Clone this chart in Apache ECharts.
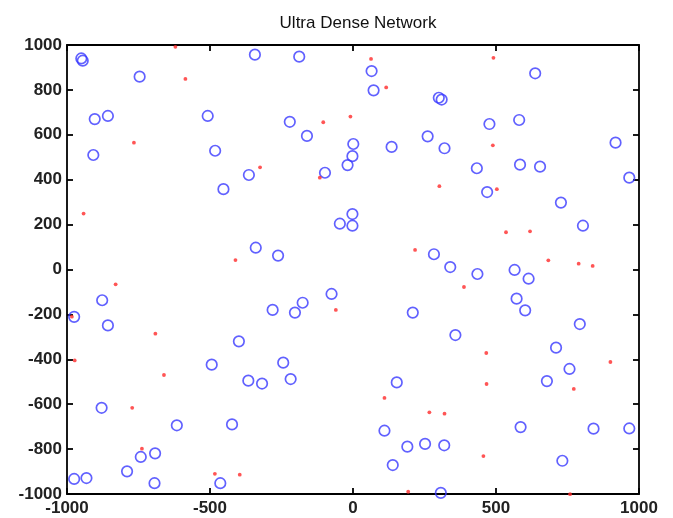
<!DOCTYPE html>
<html>
<head>
<meta charset="utf-8">
<script src="https://cdn.jsdelivr.net/npm/echarts@6/dist/echarts.min.js"></script>
<style>html,body{margin:0;padding:0;background:#fff}#c{width:673px;height:518px}</style>
</head>
<body>
<div id="c"></div>
<script>
const chartTitle = 'Ultra Dense Network';
const xTicks = [-1000, -500, 0, 500, 1000];
const yTicks = [-1000, -800, -600, -400, -200, 0, 200, 400, 600, 800, 1000];

// blue circles
const circleX = [-950,-945,-746,-903,-857,-508,-908,-482,-364,-343,-453,-188,65,72,300,310,-221,-161,1,-2,-19,135,261,320,-98,637,477,581,433,584,654,918,966,469,-340,-877,-975,-857,-399,-2,-46,-2,-262,283,340,-75,-281,-176,-203,209,727,804,435,565,614,572,602,793,358,-494,-366,-318,-879,-616,-423,-742,-692,-790,-975,-932,-694,-464,-244,-218,153,110,190,252,319,139,307,710,757,678,586,841,966,732];
const circleY = [940,930,859,670,684,684,510,529,421,957,358,948,884,798,765,757,658,595,559,505,465,546,593,540,431,874,648,666,451,467,458,565,409,345,97,-137,-211,-249,-320,247,204,195,62,68,11,-109,-180,-148,-192,-192,298,195,-20,-2,-41,-130,-182,-243,-292,-424,-495,-508,-616,-694,-690,-835,-819,-899,-933,-929,-952,-952,-415,-488,-503,-718,-789,-777,-783,-871,-995,-348,-443,-497,-702,-709,-708,-852];

// red dots
const dotX = [-621,-586,-766,-325,63,116,-104,-9,-116,302,491,489,503,-942,-411,-830,-983,-691,217,-60,535,619,683,789,838,388,-973,-661,-772,-738,-483,-396,110,267,320,193,466,900,467,772,456,759];
const dotY = [992,849,565,455,938,811,656,681,409,371,943,553,358,249,42,-66,-210,-286,87,-180,166,170,41,26,16,-78,-405,-470,-616,-798,-910,-914,-572,-636,-642,-990,-372,-412,-510,-532,-831,-1001];

const circleData = circleX.map((x, i) => [x, circleY[i]]);
const dotData = dotX.map((x, i) => [x, dotY[i]]);

const font = 'Liberation Sans, Arial, sans-serif';
const axisLine = { show: true, onZero: false, lineStyle: { color: '#000', width: 1.8 } };
const tick = { show: true, inside: true, length: 6, lineStyle: { color: '#000', width: 1.8 } };
const labelStyle = { fontFamily: font, fontSize: 17, fontWeight: 'bold', color: '#222' };

const chart = echarts.init(document.getElementById('c'), null, { renderer: 'canvas' });
chart.setOption({
  animation: false,
  backgroundColor: '#fff',
  title: {
    text: chartTitle, left: 353, top: 10, textAlign: 'center',
    textStyle: { fontFamily: font, fontSize: 17, fontWeight: 'normal', color: '#111' }
  },
  grid: { left: 67, right: 34, top: 45, bottom: 24, containLabel: false },
  xAxis: [
    { type: 'value', min: xTicks[0], max: xTicks[xTicks.length - 1], interval: 500, position: 'bottom',
      axisLine, axisTick: tick, splitLine: { show: false },
      axisLabel: Object.assign({ margin: 6, formatter: v => xTicks.includes(v) ? String(v) : '' }, labelStyle) },
    { type: 'value', min: xTicks[0], max: xTicks[xTicks.length - 1], interval: 500, position: 'top',
      axisLine, axisTick: tick, splitLine: { show: false }, axisLabel: { show: false } }
  ],
  yAxis: [
    { type: 'value', min: yTicks[0], max: yTicks[yTicks.length - 1], interval: 200, position: 'left',
      axisLine, axisTick: tick, splitLine: { show: false },
      axisLabel: Object.assign({ margin: 5, formatter: v => yTicks.includes(v) ? String(v) : '' }, labelStyle) },
    { type: 'value', min: yTicks[0], max: yTicks[yTicks.length - 1], interval: 200, position: 'right',
      axisLine, axisTick: tick, splitLine: { show: false }, axisLabel: { show: false } }
  ],
  series: [
    { type: 'scatter', xAxisIndex: 0, yAxisIndex: 0, data: circleData, symbol: 'circle', symbolSize: 10.5,
      itemStyle: { color: 'rgba(0,0,0,0)', borderColor: '#3a3aff', borderWidth: 1.7 }, clip: false },
    { type: 'scatter', xAxisIndex: 0, yAxisIndex: 0, data: dotData, symbol: 'circle', symbolSize: 3.8,
      itemStyle: { color: '#ff2a2a' }, clip: false }
  ]
});
</script>
</body>
</html>
